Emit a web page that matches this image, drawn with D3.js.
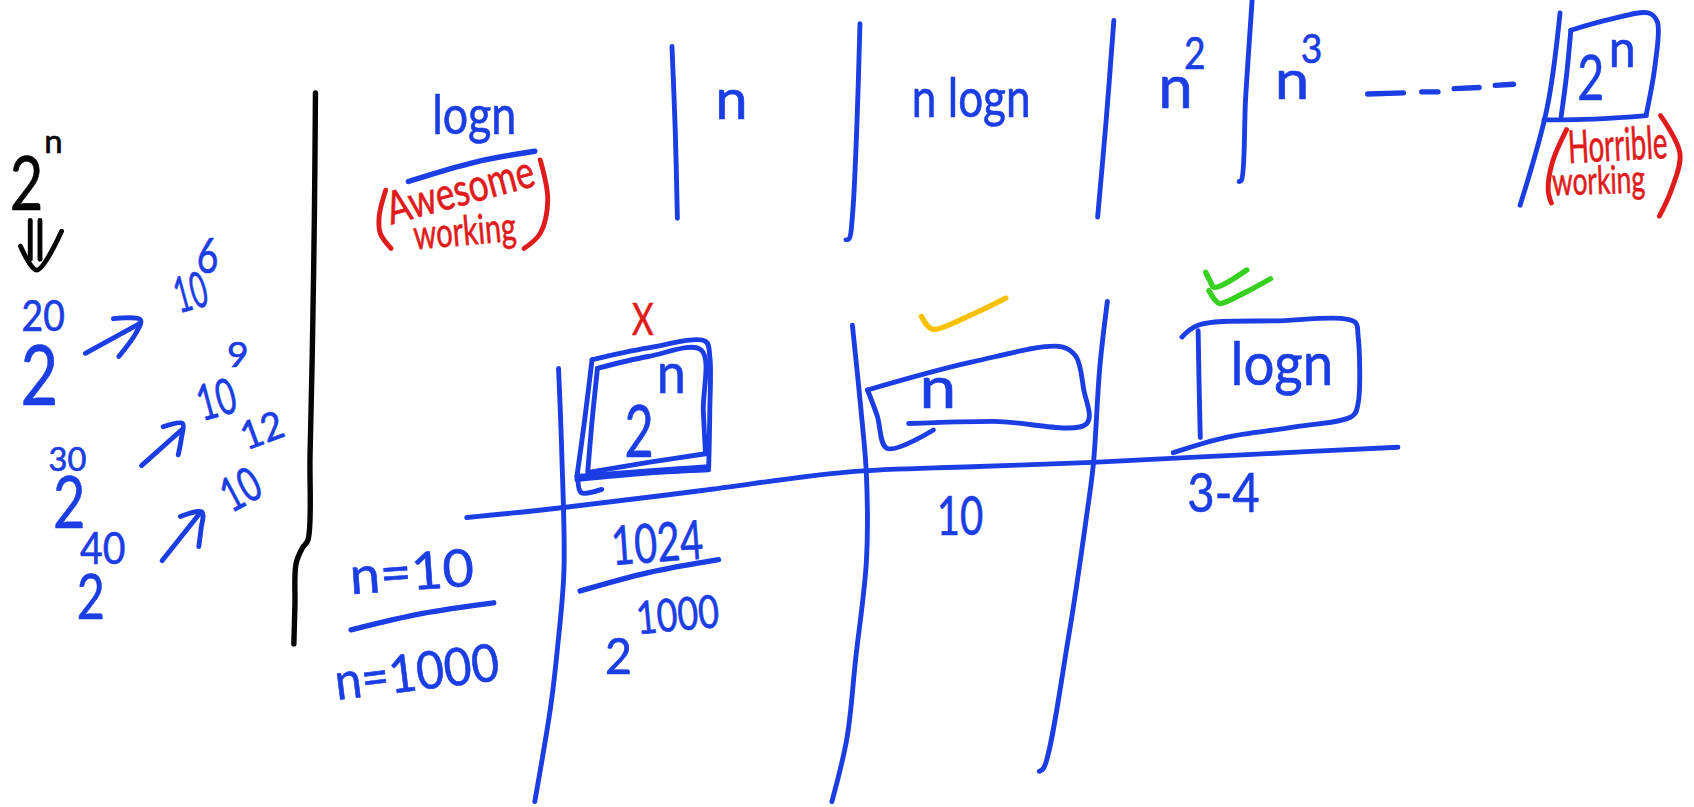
<!DOCTYPE html>
<html><head><meta charset="utf-8">
<script src="https://cdn.jsdelivr.net/npm/d3@7"></script>
<style>html,body{margin:0;padding:0;background:#fff;overflow:hidden}</style>
</head><body><svg id="c"></svg>
<script>
// ---------------- DATA ----------------
const growthTerms = ["logn", "n", "n logn", "n", "n", "2"];
const growthSup   = ["", "", "", "2", "3", "n"];
const growthNotes = [["Awesome", "working"], ["Horrible", "working"]];
const powersOfTwo = ["20", "30", "40"];
const powersOfTen = ["6", "9", "12"];
const compareBase = ["2", "n", "logn"];
const compareSup  = ["n", "", ""];
const verdicts    = ["bad", "ok", "best"];
const rowLabels   = ["n=10", "n=1000"];
const stepsN10    = ["1024", "10", "3-4"];
const stepsN1000Base = ["2", "", ""];
const stepsN1000Sup  = ["1000", "", ""];

// ---------------- LAYOUT (sketch units) ----------------
const W = 1694, H = 807;
const sx = d3.scaleLinear().domain([0, 1568]).range([0, W]);
const sy = d3.scaleLinear().domain([0, 747]).range([0, H]);
const k = W / 1568;
const BLUE = "#1a3de4", RED = "#e01b1b", YELLOW = "#f6c100", GREEN = "#36d11e", BLACK = "#050505";
const FONT = "Lato, 'Open Sans', sans-serif";

const L = {
  growth: [
    {x:400, y:124, f:50, w:78},
    {x:662, y:110, f:52, w:30},
    {x:844, y:108, f:50, w:110},
    {x:1072, y:100, f:56, w:32, s:{x:1096, y:64, f:42, w:20}},
    {x:1180, y:92, f:50, w:32, s:{x:1204, y:58, f:38, w:20}},
    {x:1460, y:93, f:58, w:25, s:{x:1489, y:62, f:48, w:25}}
  ],
  notes: [
    [{x:362, y:208, f:42, w:140, r:-15}, {x:384, y:231, f:38, w:95, r:-5}],
    [{x:1452, y:151, f:42, w:92, r:-3}, {x:1437, y:181, f:36, w:86, r:-2}]
  ],
  parens: [
    [[357,176],[351,200],[352,216],[362,230]],
    [[500,148],[507,185],[500,216],[485,230]],
    [[1450,120],[1437,150],[1433,176],[1436,188]],
    [[1537,107],[1555,142],[1547,176],[1536,200]]
  ],
  twoExp: [{x:20, y:306, f:40, w:40}, {x:45, y:436, f:30, w:35}, {x:74, y:522, f:42, w:42}],
  twoBase: [{x:19, y:375, f:78, w:35}, {x:49, y:489, f:66, w:30}, {x:71, y:573, f:58, w:26}],
  tenBase: [{x:166, y:290, f:46, w:30, r:-15}, {x:187, y:390, f:46, w:36, r:-15}, {x:214, y:475, f:44, w:36, r:-28}],
  tenExp: [{x:182, y:253, f:44, w:20}, {x:210, y:340, f:32, w:20}, {x:228, y:417, f:36, w:40, r:-20}],
  arrows: [
    {shaft:[[79,327],[130,299]], head:[[105,295],[130,296],[126,308],[110,330]]},
    {shaft:[[131,431],[168,398]], head:[[151,395],[169,392],[168,405],[165,421]]},
    {shaft:[[150,519],[185,475]], head:[[167,478],[187,474],[186,490],[184,506]]}
  ],
  bigTwo: {x:9, y:194, f:70, w:31, s:{x:41, y:142, f:30, w:17}},
  dblArrow: {shafts:[[[28,204],[28,240]], [[37,204],[37,240]]], head:[[19,228],[34,250],[57,214]]},
  compare: [
    {x:578, y:423, f:66, w:27, s:{x:608, y:364, f:52, w:27}},
    {x:851, y:378, f:54, w:34},
    {x:1139, y:356, f:56, w:95}
  ],
  rows: [{x:325, y:550, f:48, w:115, r:-4}, {x:312, y:648, f:48, w:153, r:-7}],
  n10: [{x:567, y:523, f:50, w:85, r:-4}, {x:867, y:495, f:51, w:43}, {x:1099, y:474, f:51, w:67}],
  n1000Base: [{x:560, y:624, f:46, w:25}],
  n1000Sup: [{x:590, y:587, f:42, w:77, r:-5}],
  verdict: {
    bad: {x:585, y:310, f:42, w:20},
    ok: [[[853,293],[858,301],[864,305],[900,291],[931,276]]],
    best: [[[1116,252],[1120,260],[1124,266],[1154,250]], [[1119,269],[1124,277],[1129,281],[1152,271],[1176,258]]]
  },
  bracket: [[292,86],[291,200],[289,330],[287,420],[285,500],[280,507],[274,522],[273,560],[272,596]],
  topLines: [
    [[622,43],[625,120],[627,202]],
    [[796,22],[793,120],[789,200],[786,221],[783,222]],
    [[1031,19],[1024,110],[1016,201]],
    [[1159,0],[1153,90],[1149,167],[1147,168]],
    [[1444,12],[1432,100],[1407,190]]
  ],
  dashes: [[[1266,87],[1299,86]], [[1316,85],[1331,85]], [[1346,82],[1369,81]], [[1384,79],[1401,78]]],
  topBox: [
    [[1454,28],[1490,18],[1526,12],[1534,20],[1532,60],[1524,105]],
    [[1429,111],[1480,110],[1524,107]],
    [[1454,28],[1450,70],[1445,108]]
  ],
  underlines: [
    [[378,168],[440,150],[495,140]],
    [[325,583],[390,568],[457,558]],
    [[537,547],[600,530],[665,518]]
  ],
  grid: [
    [[432,479],[520,470],[650,454],[784,437],[900,432],[1011,428],[1150,421],[1294,414]],
    [[517,341],[520,420],[522,528],[516,600],[510,652],[495,742]],
    [[789,301],[797,380],[802,440],[802,519],[792,610],[784,683],[770,742]],
    [[1025,279],[1018,340],[1012,430],[1006,476],[989,590],[966,711],[962,714]]
  ],
  boxes: [
    [[548,333],[600,322],[653,316],[657,330],[657,380],[656,432]],
    [[656,432],[600,436],[534,441]],
    [[548,333],[541,390],[534,441]],
    [[553,341],[600,330],[649,324],[651,380],[653,420]],
    [[653,420],[600,428],[546,437]],
    [[553,341],[548,390],[544,437]],
    [[534,444],[600,438],[656,435]],
    [[535,444],[538,456],[557,453]],
    [[803,361],[900,335],[983,321],[996,330],[1003,360],[1006,392],[920,390],[841,392]],
    [[803,361],[812,385],[821,415],[864,398]],
    [[1094,312],[1109,301],[1180,297],[1254,298],[1257,310],[1257,374],[1252,385],[1200,395],[1134,405],[1086,419]],
    [[1109,306],[1110,360],[1111,405]]
  ]
};

// ---------------- DRAW ----------------
const svg = d3.select("#c").attr("width", W).attr("height", H).style("background", "#fff");
const line = d3.line().x(d => sx(d[0])).y(d => sy(d[1])).curve(d3.curveCatmullRom.alpha(0.5));

function stroke(g, pts, color, w) {
  g.append("path").attr("d", line(pts)).attr("fill", "none")
    .attr("stroke", color).attr("stroke-width", w * k)
    .attr("stroke-linecap", "round").attr("stroke-linejoin", "round");
}
// handwritten-like text: natural glyphs squeezed horizontally to the sketched width
function txt(g, s, t, color) {
  if (!t) return;
  const el = g.append("text").attr("x", 0).attr("y", 0)
    .attr("font-family", FONT).attr("font-size", s.f * k)
    .attr("fill", color).attr("stroke", color).attr("stroke-width", 0.6 * k)
    .text(t);
  const nat = el.node().getComputedTextLength() || 1;
  const fx = s.w ? (s.w * k) / nat : 1;
  el.attr("transform", `translate(${sx(s.x)},${sy(s.y)}) rotate(${s.r || 0}) scale(${fx},1)`);
}

const gB = svg.append("g").attr("class", "black");
const gBlue = svg.append("g").attr("class", "blue");
const gRed = svg.append("g").attr("class", "red");

// left black 2^n and double arrow
txt(gB, L.bigTwo, "2", BLACK);
txt(gB, L.bigTwo.s, "n", BLACK);
L.dblArrow.shafts.forEach(p => stroke(gB, p, BLACK, 4.5));
stroke(gB, L.dblArrow.head, BLACK, 4.5);
stroke(gB, L.bracket, BLACK, 5);

// powers of two -> powers of ten
powersOfTwo.forEach((e, i) => {
  txt(gBlue, L.twoBase[i], "2", BLUE);
  txt(gBlue, L.twoExp[i], e, BLUE);
  stroke(gBlue, L.arrows[i].shaft, BLUE, 4.5);
  stroke(gBlue, L.arrows[i].head, BLUE, 4.5);
});
powersOfTen.forEach((e, i) => {
  txt(gBlue, L.tenBase[i], "10", BLUE);
  txt(gBlue, L.tenExp[i], e, BLUE);
});

// top growth row
growthTerms.forEach((t, i) => {
  txt(gBlue, L.growth[i], t, BLUE);
  if (growthSup[i]) txt(gBlue, L.growth[i].s, growthSup[i], BLUE);
});
L.topLines.forEach(p => stroke(gBlue, p, BLUE, 4.5));
L.dashes.forEach(p => stroke(gBlue, p, BLUE, 5));
L.topBox.forEach(p => stroke(gBlue, p, BLUE, 4.5));
stroke(gBlue, L.underlines[0], BLUE, 5);

growthNotes.forEach((n, i) => {
  n.forEach((w, j) => txt(gRed, L.notes[i][j], w, RED));
});
L.parens.forEach(p => stroke(gRed, p, RED, 4.5));

// bottom table
L.grid.forEach(p => stroke(gBlue, p, BLUE, 4.5));
L.boxes.forEach(p => stroke(gBlue, p, BLUE, 4.5));
compareBase.forEach((t, i) => {
  txt(gBlue, L.compare[i], t, BLUE);
  if (compareSup[i]) txt(gBlue, L.compare[i].s, compareSup[i], BLUE);
});
verdicts.forEach(v => {
  if (v === "bad") txt(gRed, L.verdict.bad, "X", RED);
  if (v === "ok") L.verdict.ok.forEach(p => stroke(svg, p, YELLOW, 5));
  if (v === "best") L.verdict.best.forEach(p => stroke(svg, p, GREEN, 5));
});
rowLabels.forEach((t, i) => txt(gBlue, L.rows[i], t, BLUE));
stroke(gBlue, L.underlines[1], BLUE, 5);
stroke(gBlue, L.underlines[2], BLUE, 5);
stepsN10.forEach((t, i) => txt(gBlue, L.n10[i], t, BLUE));
stepsN1000Base.forEach((t, i) => {
  if (t) { txt(gBlue, L.n1000Base[i], t, BLUE); txt(gBlue, L.n1000Sup[i], stepsN1000Sup[i], BLUE); }
});
</script></body></html>
